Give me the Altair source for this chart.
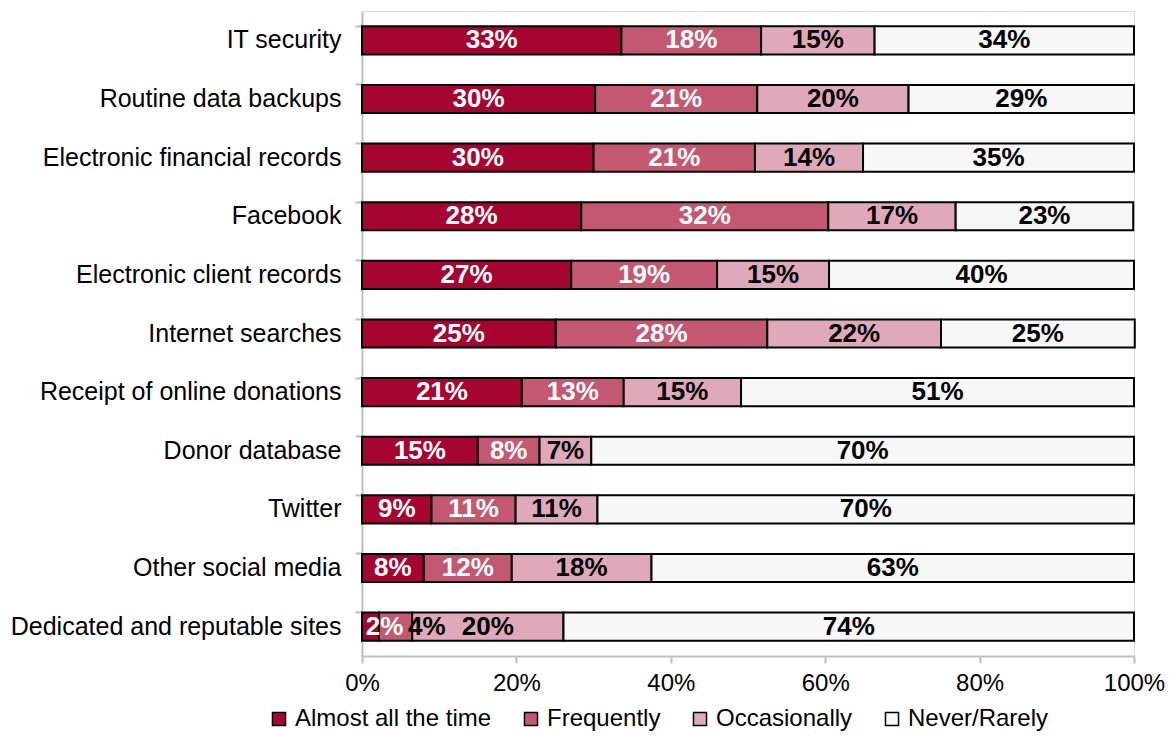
import altair as alt
import pandas as pd

categories = [
    "IT security", "Routine data backups", "Electronic financial records",
    "Facebook", "Electronic client records", "Internet searches",
    "Receipt of online donations", "Donor database", "Twitter",
    "Other social media", "Dedicated and reputable sites",
]
series = ["Almost all the time", "Frequently", "Occasionally", "Never/Rarely"]
colors = ["#A50530", "#C45872", "#E0A9B9", "#F7F7F7"]
text_colors = ["white", "white", "black", "black"]

# bar widths (percent)
almost = [33.6, 30.2, 30.0, 28.4, 27.1, 25.1, 20.7, 15.0, 9.0, 8.0, 2.2]
frequently = [18.1, 21.0, 20.9, 32.0, 18.9, 27.4, 13.2, 8.0, 10.9, 11.4, 4.3]
occasionally = [14.7, 19.6, 14.0, 16.5, 14.5, 22.5, 15.2, 6.7, 10.6, 18.1, 19.6]
never = [33.6, 29.2, 35.1, 23.0, 39.5, 25.1, 50.9, 70.3, 69.5, 62.5, 73.9]

# data labels as printed
lab_almost = [33, 30, 30, 28, 27, 25, 21, 15, 9, 8, 2]
lab_frequently = [18, 21, 21, 32, 19, 28, 13, 8, 11, 12, 4]
lab_occasionally = [15, 20, 14, 17, 15, 22, 15, 7, 11, 18, 20]
lab_never = [34, 29, 35, 23, 40, 25, 51, 70, 70, 63, 74]

vals = [almost, frequently, occasionally, never]
labs = [lab_almost, lab_frequently, lab_occasionally, lab_never]

FONT = "Liberation Sans"
LABEL_SIZE = 26
PLOT_W = 772

def est_width_pct(text):
    # rough text width estimate (bold), in percent of the axis
    em = sum(0.889 if ch == "%" else 0.556 for ch in text)
    return em * LABEL_SIZE / PLOT_W * 100

rows = []
for i, c in enumerate(categories):
    bounds = [0.0]
    for j in range(len(series)):
        bounds.append(bounds[-1] + vals[j][i])
    prev_right = 0.5
    for j, s in enumerate(series):
        start, end = bounds[j], bounds[j + 1]
        text = f"{labs[j][i]}%"
        w = est_width_pct(text)
        mid = (start + end) / 2
        # push label right when it would collide with the previous one
        if mid - w / 2 < prev_right:
            mid = prev_right + w / 2
        prev_right = mid + w / 2 + 0.6
        # text colour follows the segment the label actually sits on
        seg = max(k for k in range(len(series)) if bounds[k] <= mid)
        rows.append({
            "cat": c, "series": s, "order": j,
            "start": start / 100, "end": end / 100,
            "mid": mid / 100,
            "label": text, "tcolor": text_colors[min(seg, len(series) - 1)],
        })
df = pd.DataFrame(rows)

y_enc = alt.Y("cat:N", sort=categories, title=None,
              scale=alt.Scale(paddingInner=0.52, paddingOuter=0.26),
              axis=alt.Axis(labelFontSize=25, labelColor="black", labelFont=FONT,
                            labelLimit=0, labelPadding=14,
                            domainColor="#BFBFBF", domainWidth=2,
                            tickColor="#BFBFBF", tickWidth=2, tickSize=7,
                            bandPosition=0, grid=False))

bars = alt.Chart(df).mark_bar(stroke="black", strokeWidth=2).encode(
    y=y_enc,
    x=alt.X("start:Q", title=None,
            scale=alt.Scale(domain=[0, 1], nice=False),
            axis=alt.Axis(format=".0%", values=[0, 0.2, 0.4, 0.6, 0.8, 1.0],
                          labelFontSize=24, labelColor="black", labelFont=FONT,
                          labelFlush=False, labelPadding=8,
                          domainColor="#BFBFBF", domainWidth=2,
                          tickColor="#BFBFBF", tickWidth=2, tickSize=7, grid=False)),
    x2="end:Q",
    fill=alt.Fill("series:N", sort=series,
                  scale=alt.Scale(domain=series, range=colors),
                  legend=alt.Legend(title=None, orient="none", direction="horizontal",
                                    legendX=-95, legendY=696,
                                    symbolType="square", symbolSize=170,
                                    symbolStrokeColor="black", symbolStrokeWidth=1.5,
                                    labelFontSize=24, labelFont=FONT, labelColor="black",
                                    labelOffset=4, columnPadding=27, labelLimit=0)),
    order=alt.Order("order:Q"),
)

texts = alt.Chart(df).mark_text(font=FONT, fontSize=LABEL_SIZE, fontWeight="bold").encode(
    y=alt.Y("cat:N", sort=categories),
    x=alt.X("mid:Q"),
    text="label:N",
    color=alt.Color("tcolor:N", scale=None),
)

chart = alt.layer(bars, texts).properties(
    width=PLOT_W, height=645,
    padding={"left": 354, "top": 3, "right": 33, "bottom": 76},
    autosize=alt.AutoSizeParams(type="none"),
).configure_view(stroke=None, strokeWidth=0).configure(font=FONT)

chart.save("out.html", embed_options={"renderer": "svg", "actions": False})
